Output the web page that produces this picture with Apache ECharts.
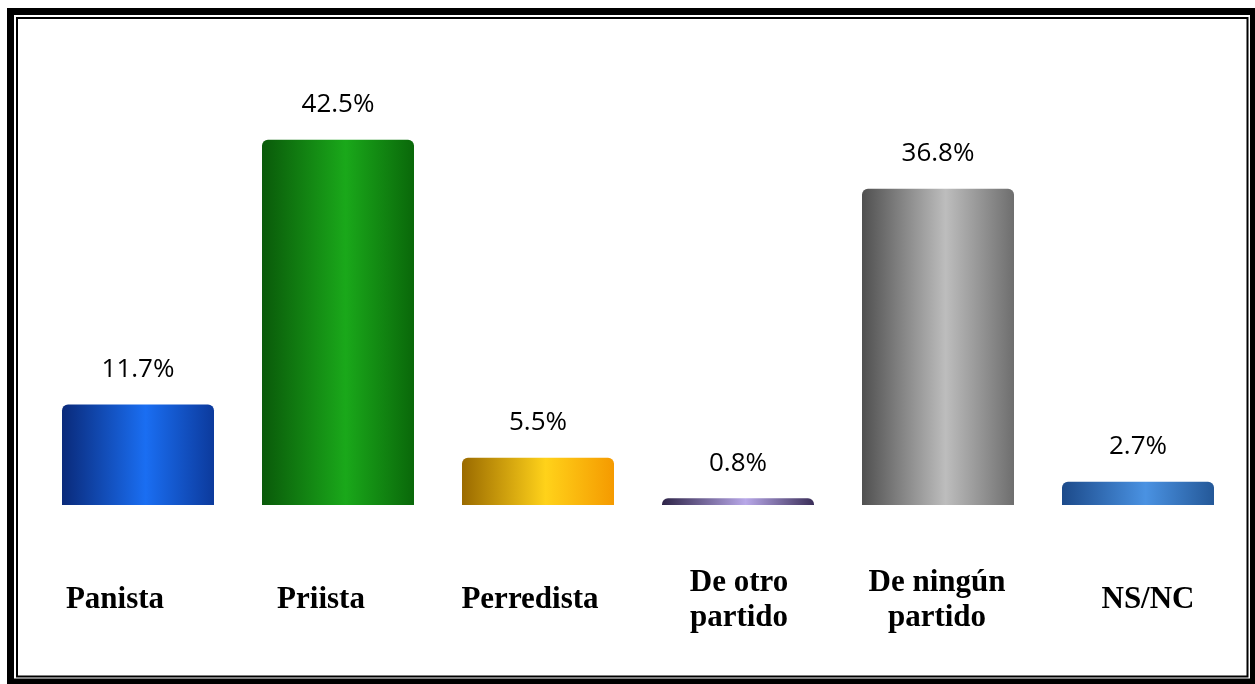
<!DOCTYPE html>
<html>
<head>
<meta charset="utf-8">
<script src="https://cdn.jsdelivr.net/npm/echarts@6/dist/echarts.min.js"></script>
<style>
html,body{margin:0;padding:0;background:#fff;}
#chart{width:1255px;height:684px;}
</style>
</head>
<body>
<div id="chart"></div>
<script>
// ---- data ----
const categories = ['Panista', 'Priista', 'Perredista', 'De otro\npartido', 'De ningún\npartido', 'NS/NC'];
const values = [11.7, 42.5, 5.5, 0.8, 36.8, 2.7];

// ---- styles ----
// horizontal offset (px) of each category label relative to its bar centre
const labelShift = [-23, -17, -8, 1, -1, 10];
const barStops = [
  ['#0a2a7a', '#1a6ef2', '#0c3a9c'],
  ['#0a5a0a', '#1aa81a', '#0a680a'],
  ['#9a6a00', '#ffd21a', '#f59a00'],
  ['#2e2448', '#b8a8e8', '#3a2e58'],
  ['#505050', '#bdbdbd', '#6e6e6e'],
  ['#1c4a8a', '#4a92e2', '#245898']
];

function grad(s) {
  return new echarts.graphic.LinearGradient(0, 0, 1, 0, [
    { offset: 0, color: s[0] },
    { offset: 0.55, color: s[1] },
    { offset: 1, color: s[2] }
  ]);
}

function shiftPad(d) {
  return d < 0 ? [0, -2 * d, 0, 0] : [0, 0, 0, 2 * d];
}

const catLabelStyle = {
  fontFamily: 'Liberation Serif',
  fontWeight: 'bold',
  fontSize: 31,
  lineHeight: 35,
  verticalAlign: 'middle',
  color: '#000'
};

const chart = echarts.init(document.getElementById('chart'));
chart.setOption({
  backgroundColor: '#ffffff',
  animation: false,
  grid: { left: 38, right: 17, top: 75.4, bottom: 179, containLabel: false },
  xAxis: {
    type: 'category',
    data: categories.map((c, i) => ({
      value: c,
      textStyle: Object.assign({}, catLabelStyle, { padding: shiftPad(labelShift[i]) })
    })),
    axisLine: { show: false },
    axisTick: { show: false },
    axisLabel: Object.assign({ interval: 0, margin: 95 }, catLabelStyle)
  },
  yAxis: {
    type: 'value',
    min: 0,
    max: 50,
    show: false,
    splitLine: { show: false }
  },
  series: [{
    type: 'bar',
    barWidth: '76%',
    data: values.map((v, i) => ({
      value: v,
      itemStyle: { color: grad(barStops[i]), borderRadius: [6, 6, 0, 0] }
    })),
    label: {
      show: true,
      position: 'top',
      distance: 20,
      formatter: p => p.value.toFixed(1) + '%',
      fontFamily: 'Open Sans',
      fontSize: 26,
      lineHeight: 30,
      color: '#000'
    }
  }],
  graphic: [
    {
      type: 'rect',
      shape: { x: 10.5, y: 11.5, width: 1243, height: 670.5 },
      style: { fill: 'none', stroke: '#000', lineWidth: 7 },
      silent: true
    },
    {
      type: 'rect',
      shape: { x: 17, y: 18, width: 1230.5, height: 658.5 },
      style: { fill: 'none', stroke: '#000', lineWidth: 2 },
      silent: true
    }
  ]
});
</script>
</body>
</html>
